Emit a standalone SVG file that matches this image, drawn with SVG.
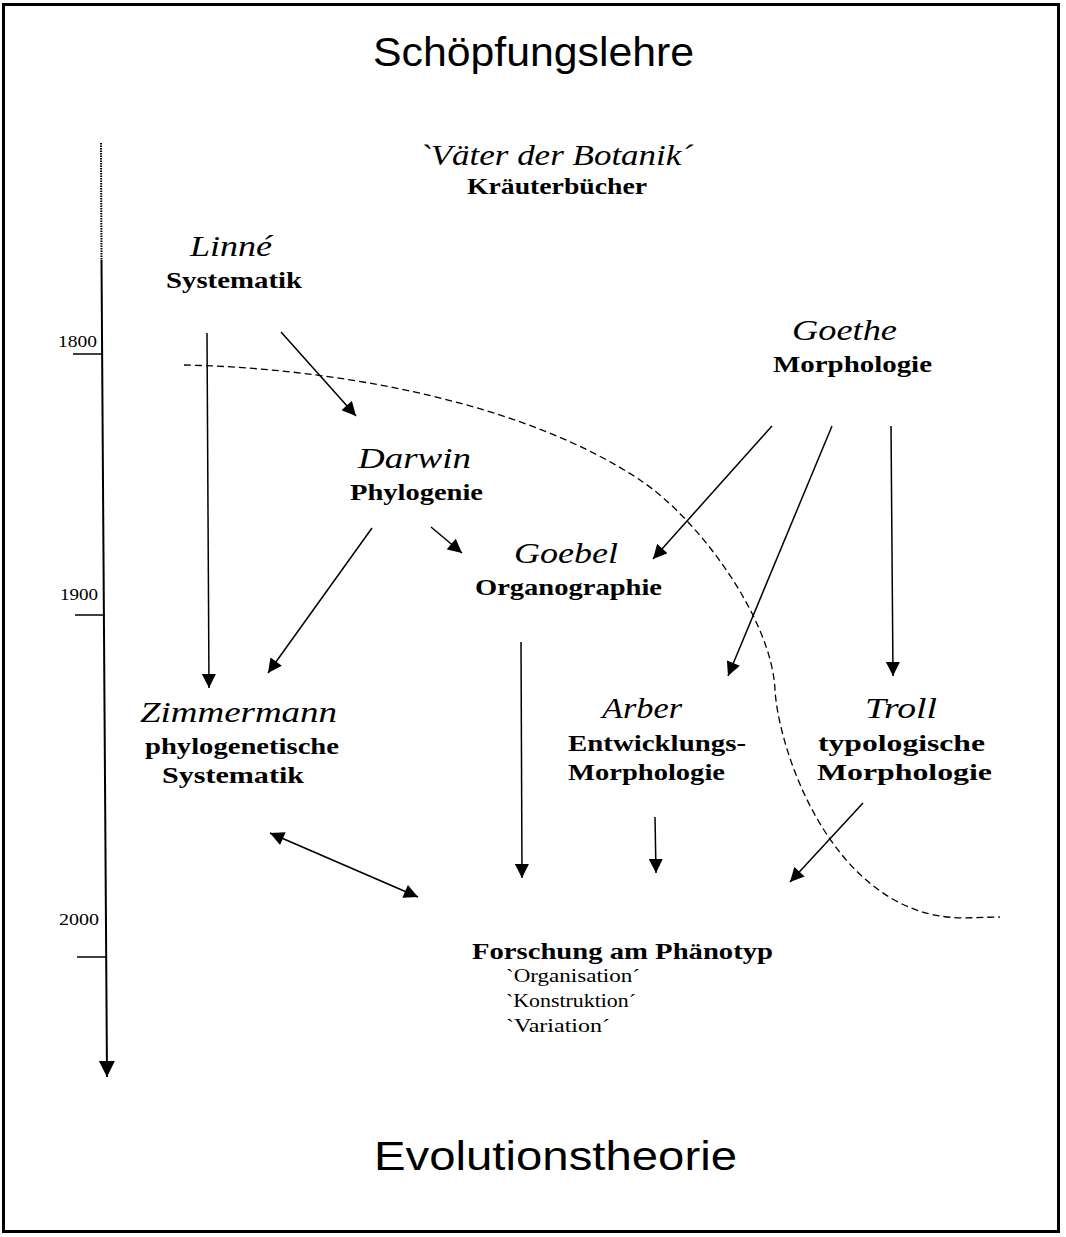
<svg xmlns="http://www.w3.org/2000/svg" width="1066" height="1237" viewBox="0 0 1066 1237">
<defs>
<marker id="ah" viewBox="0 0 10 10" refX="10" refY="5" markerUnits="userSpaceOnUse" markerWidth="15" markerHeight="14" orient="auto-start-reverse">
<path d="M0,0 L10,5 L0,10 z" fill="#000"/>
</marker>
<marker id="ahT" viewBox="0 0 10 10" refX="10" refY="5" markerUnits="userSpaceOnUse" markerWidth="16" markerHeight="17" orient="auto">
<path d="M0,0 L10,5 L0,10 z" fill="#000"/>
</marker>
<style>
.ttl{font-family:"Liberation Sans",Arial,sans-serif;font-size:40px;fill:#000}
.nm{font-family:"Liberation Serif","Times New Roman",serif;font-style:italic;font-size:30px;fill:#000}
.sub{font-family:"Liberation Serif","Times New Roman",serif;font-weight:bold;font-size:24px;fill:#000}
.q{font-family:"Liberation Serif","Times New Roman",serif;font-size:18px;fill:#000}
.yr{font-family:"Liberation Serif","Times New Roman",serif;font-size:16px;fill:#000}
.ln{stroke:#000;stroke-width:1.5;fill:none}
.arr{stroke:#000;stroke-width:1.5;fill:none;marker-end:url(#ah)}
</style>
</defs>
<rect x="3.5" y="4.5" width="1055" height="1227" fill="#fff" stroke="#000" stroke-width="3"/>

<g id="titles">
<text class="ttl" x="373" y="66" textLength="321" lengthAdjust="spacingAndGlyphs">Schöpfungslehre</text>
<text class="ttl" x="374" y="1170" textLength="363" lengthAdjust="spacingAndGlyphs">Evolutionstheorie</text>
</g>

<g id="timeline">
<line x1="101" y1="143" x2="101.5" y2="260" stroke="#000" stroke-width="2" stroke-dasharray="1.5,1"/>
<line x1="101.5" y1="260" x2="107" y2="1077" stroke="#000" stroke-width="2" marker-end="url(#ahT)"/>
<line x1="73" y1="354" x2="103" y2="354" class="ln"/>
<line x1="75" y1="615" x2="105" y2="615" class="ln"/>
<line x1="77" y1="957" x2="107" y2="957" class="ln"/>
<text class="yr" x="58" y="347" textLength="39" lengthAdjust="spacingAndGlyphs">1800</text>
<text class="yr" x="60" y="600" textLength="38" lengthAdjust="spacingAndGlyphs">1900</text>
<text class="yr" x="59" y="925" textLength="40" lengthAdjust="spacingAndGlyphs">2000</text>
</g>

<g id="boundary">
<path d="M184,365 C330,368 520,400 640,480 C700,520 772,620 775,690 C778,740 815,860 900,903 C940,923 970,917 1000,917" stroke="#000" stroke-width="1.3" fill="none" stroke-dasharray="7,4"/>
</g>

<g id="node-vaeter">
<text class="nm" x="419" y="165" textLength="274" lengthAdjust="spacingAndGlyphs">`Väter der Botanik´</text>
<text class="sub" x="467" y="194" textLength="180" lengthAdjust="spacingAndGlyphs">Kräuterbücher</text>
</g>
<g id="node-linne">
<text class="nm" x="190" y="256" textLength="82" lengthAdjust="spacingAndGlyphs">Linné</text>
<text class="sub" x="166" y="288" textLength="136" lengthAdjust="spacingAndGlyphs">Systematik</text>
</g>
<g id="node-goethe">
<text class="nm" x="792" y="340" textLength="105" lengthAdjust="spacingAndGlyphs">Goethe</text>
<text class="sub" x="773" y="372" textLength="159" lengthAdjust="spacingAndGlyphs">Morphologie</text>
</g>
<g id="node-darwin">
<text class="nm" x="358" y="468" textLength="113" lengthAdjust="spacingAndGlyphs">Darwin</text>
<text class="sub" x="350" y="500" textLength="133" lengthAdjust="spacingAndGlyphs">Phylogenie</text>
</g>
<g id="node-goebel">
<text class="nm" x="514" y="563" textLength="104" lengthAdjust="spacingAndGlyphs">Goebel</text>
<text class="sub" x="475" y="595" textLength="187" lengthAdjust="spacingAndGlyphs">Organographie</text>
</g>
<g id="node-zimmermann">
<text class="nm" x="140" y="722" textLength="197" lengthAdjust="spacingAndGlyphs">Zimmermann</text>
<text class="sub" x="145" y="754" textLength="194" lengthAdjust="spacingAndGlyphs">phylogenetische</text>
<text class="sub" x="162" y="783" textLength="142" lengthAdjust="spacingAndGlyphs">Systematik</text>
</g>
<g id="node-arber">
<text class="nm" x="602" y="718" textLength="80" lengthAdjust="spacingAndGlyphs">Arber</text>
<text class="sub" x="568" y="751" textLength="178" lengthAdjust="spacingAndGlyphs">Entwicklungs-</text>
<text class="sub" x="568" y="780" textLength="157" lengthAdjust="spacingAndGlyphs">Morphologie</text>
</g>
<g id="node-troll">
<text class="nm" x="865" y="718" textLength="72" lengthAdjust="spacingAndGlyphs">Troll</text>
<text class="sub" x="818" y="751" textLength="167" lengthAdjust="spacingAndGlyphs">typologische</text>
<text class="sub" x="817" y="780" textLength="175" lengthAdjust="spacingAndGlyphs">Morphologie</text>
</g>
<g id="node-forschung">
<text class="sub" x="472" y="959" textLength="301" lengthAdjust="spacingAndGlyphs">Forschung am Phänotyp</text>
<text class="q" x="506" y="982" textLength="134" lengthAdjust="spacingAndGlyphs">`Organisation´</text>
<text class="q" x="506" y="1007" textLength="130" lengthAdjust="spacingAndGlyphs">`Konstruktion´</text>
<text class="q" x="506" y="1032" textLength="104" lengthAdjust="spacingAndGlyphs">`Variation´</text>
</g>

<g id="connectors">
<line class="arr" x1="207" y1="333" x2="209" y2="688"/>
<line class="arr" x1="281" y1="332" x2="356" y2="416"/>
<line class="arr" x1="372" y1="528" x2="268" y2="673"/>
<line class="arr" x1="431" y1="527" x2="462" y2="553"/>
<line class="arr" x1="772" y1="426" x2="653" y2="559"/>
<line class="arr" x1="832" y1="426" x2="728" y2="676"/>
<line class="arr" x1="891" y1="426" x2="893" y2="676"/>
<line class="arr" x1="521" y1="642" x2="522" y2="878"/>
<line class="arr" x1="655" y1="817" x2="656" y2="873"/>
<line class="arr" x1="863" y1="803" x2="790" y2="882"/>
<line class="arr" x1="270" y1="833" x2="418" y2="897" marker-start="url(#ah)"/>
</g>
</svg>
